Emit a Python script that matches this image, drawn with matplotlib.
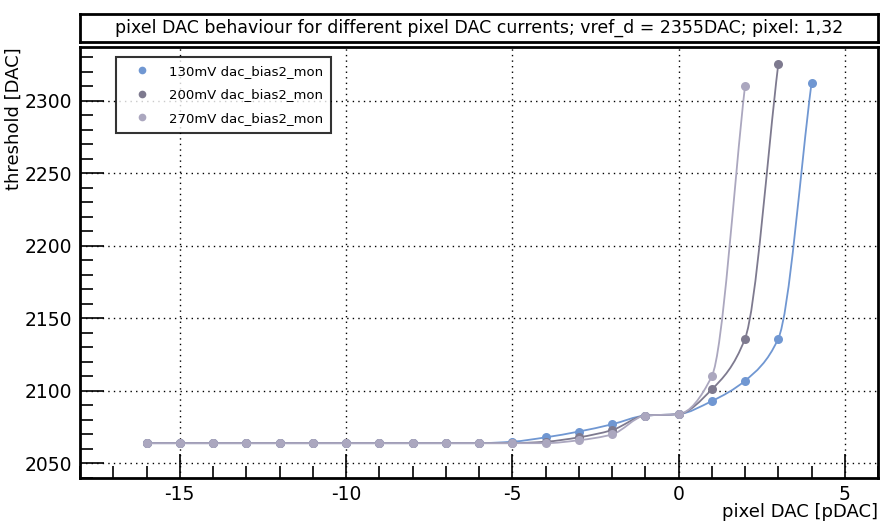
import numpy as np
import matplotlib
matplotlib.use('Agg')
import matplotlib.pyplot as plt
from matplotlib.path import Path
from matplotlib.patches import PathPatch
from matplotlib.ticker import MultipleLocator

plt.rcParams['font.family'] = ['DejaVu Sans']
plt.rcParams['axes.unicode_minus'] = False

title = "pixel DAC behaviour for different pixel DAC currents; vref_d = 2355DAC; pixel: 1,32"

labels = ["130mV dac_bias2_mon", "200mV dac_bias2_mon", "270mV dac_bias2_mon"]
colors = ["#7097d2", "#7e7a8f", "#aba7bf"]

pdac_130 = [-16, -15, -14, -13, -12, -11, -10, -9, -8, -7, -6, -5, -4, -3, -2, -1, 0, 1, 2, 3, 4]
thr_130 = [2064, 2064, 2064, 2064, 2064, 2064, 2064, 2064, 2064, 2064, 2064, 2065, 2068,
           2072, 2077, 2083, 2084, 2093, 2107, 2136, 2312]

pdac_200 = [-16, -15, -14, -13, -12, -11, -10, -9, -8, -7, -6, -5, -4, -3, -2, -1, 0, 1, 2, 3]
thr_200 = [2064, 2064, 2064, 2064, 2064, 2064, 2064, 2064, 2064, 2064, 2064, 2064, 2065,
           2068, 2073, 2083, 2084, 2101, 2136, 2325]

pdac_270 = [-16, -15, -14, -13, -12, -11, -10, -9, -8, -7, -6, -5, -4, -3, -2, -1, 0, 1, 2]
thr_270 = [2064, 2064, 2064, 2064, 2064, 2064, 2064, 2064, 2064, 2064, 2064, 2064, 2064,
           2066, 2070, 2083, 2084, 2110, 2310]

series = [(pdac_130, thr_130), (pdac_200, thr_200), (pdac_270, thr_270)]


def smooth_path(x, y):
    # monotone cubic (Fritsch-Carlson tangents) through the points, as bezier segments
    x = np.asarray(x, float)
    y = np.asarray(y, float)
    h = np.diff(x)
    d = np.diff(y) / h
    m = np.zeros_like(y)
    m[0], m[-1] = d[0], d[-1]
    for i in range(1, len(y) - 1):
        if d[i - 1] * d[i] > 0:
            w1 = 2 * h[i] + h[i - 1]
            w2 = h[i] + 2 * h[i - 1]
            m[i] = (w1 + w2) / (w1 / d[i - 1] + w2 / d[i])
    verts = [(x[0], y[0])]
    codes = [Path.MOVETO]
    for i in range(len(x) - 1):
        verts += [(x[i] + h[i] / 3, y[i] + m[i] * h[i] / 3),
                  (x[i + 1] - h[i] / 3, y[i + 1] - m[i + 1] * h[i] / 3),
                  (x[i + 1], y[i + 1])]
        codes += [Path.CURVE4] * 3
    return Path(verts, codes)


fig = plt.figure(figsize=(8.81, 5.24), dpi=100)
ax = fig.add_axes([80 / 881, 1 - 478 / 524, 798 / 881, 431 / 524])

for (x, y), c, lab in zip(series, colors, labels):
    ax.add_patch(PathPatch(smooth_path(x, y), facecolor='none', edgecolor=c, lw=1.3, zorder=3))
    ax.plot(x, y, 'o', color=c, ms=6.5, mec='none', label=lab, zorder=4)

ax.set_xlim(-18, 6)
ax.set_ylim(2040, 2337)
ax.xaxis.set_major_locator(MultipleLocator(5))
ax.xaxis.set_minor_locator(MultipleLocator(1))
ax.yaxis.set_major_locator(MultipleLocator(50))
ax.yaxis.set_minor_locator(MultipleLocator(10))
ax.tick_params(which='both', direction='in', top=False, right=False, labelsize=13.5, color='black')
ax.tick_params(which='major', length=17, width=1.2)
ax.tick_params(which='minor', length=9, width=1.2)
ax.tick_params(axis='x', which='major', pad=5)
ax.tick_params(axis='y', which='major', pad=6)
ax.grid(True, which='major', color='black', ls=(0, (1, 3)), lw=1.0)
for s in ax.spines.values():
    s.set_linewidth(2)
    s.set_color('black')

ax.set_xlabel("pixel DAC [pDAC]", fontsize=13, loc='right', labelpad=-1)
ax.set_ylabel("threshold [DAC]", fontsize=13, loc='top', labelpad=1)

leg = ax.legend(loc='upper left', bbox_to_anchor=(0.045, 0.977), borderaxespad=0,
                fontsize=9.5, frameon=True, fancybox=False, edgecolor='black',
                borderpad=0.6, labelspacing=0.8, handlelength=2.8, handletextpad=0.6,
                markerscale=0.85)
leg.get_frame().set_linewidth(1.5)

# framed title box above the plot
tax = fig.add_axes([80 / 881, 1 - 42 / 524, 798 / 881, 28 / 524])
tax.set_xticks([])
tax.set_yticks([])
for s in tax.spines.values():
    s.set_linewidth(2)
tax.text(0.5, 0.5, title, ha='center', va='center', fontsize=12.5, transform=tax.transAxes)

fig.savefig('out.png', dpi=100)
